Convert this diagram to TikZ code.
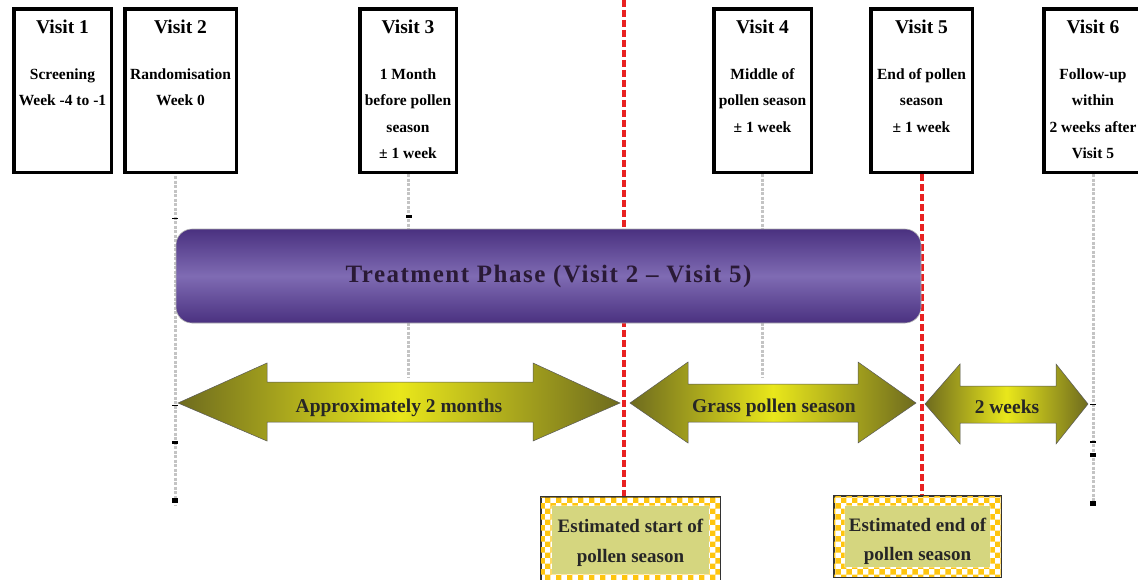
\documentclass[tikz,border=0pt]{standalone}
\usepackage{fontspec}
\setmainfont{Liberation Serif}
\usetikzlibrary{patterns}
\definecolor{purpdark}{HTML}{4A3180}
\definecolor{purpmid}{HTML}{7F6BB3}
\definecolor{olivedark}{HTML}{6E6B1E}
\definecolor{olivebright}{HTML}{E9E71B}
\definecolor{khakifill}{HTML}{D5D67F}
\definecolor{checkgold}{HTML}{FFC50F}
\definecolor{seasonred}{HTML}{E82222}
\definecolor{timegray}{HTML}{C4C4C4}
\definecolor{treattext}{HTML}{2A1A36}

\begin{document}
\begin{tikzpicture}[x=1pt,y=-1pt,
  visitbox/.style={draw=black, line width=3.5pt, fill=white, minimum height=163.5pt, inner sep=0pt},
  vtitle/.style={font=\bfseries\fontsize{19.5}{21}\selectfont, anchor=base, inner sep=0pt},
  vsub/.style={font=\bfseries\fontsize{15.5}{18}\selectfont, anchor=base, inner sep=0pt},
  timeline/.style={draw=timegray, line width=3pt, dash pattern=on 3pt off 1.5pt},
  tickmark/.style={draw=black, line width=3pt},
  seasonline/.style={draw=seasonred, line width=4pt, dash pattern=on 7pt off 3pt},
  treatbar/.style={draw=gray!60, line width=0.6pt, rounded corners=16pt,
    top color=purpdark, bottom color=purpdark, middle color=purpmid,
    minimum width=745pt, minimum height=94pt, inner sep=0pt,
    text=treattext, font=\bfseries\fontsize{25}{27}\selectfont\addfontfeature{LetterSpace=6}},
  spanarrow/.style={draw=gray!70!black, line width=0.5pt,
    left color=olivedark, right color=olivedark, middle color=olivebright},
  spanlabel/.style={font=\bfseries\fontsize{19.5}{21}\selectfont, text=black!85, anchor=base, inner sep=0pt},
  estbox/.style={draw=black!80, line width=0.8pt, fill=white, inner sep=0pt},
  estlabel/.style={font=\bfseries\fontsize{19}{21}\selectfont, text=black!85, anchor=base, inner sep=0pt},
]
\clip (0,0) rectangle (1138,579);
\fill[white] (0,0) rectangle (1138,579);

% visit boxes
\node[visitbox, minimum width=97.5pt]  (v1) at (62.5,90.5) {};
\node[visitbox, minimum width=111.5pt] (v2) at (180.5,90.5) {};
\node[visitbox, minimum width=96.5pt]  (v3) at (408,90.5) {};
\node[visitbox, minimum width=97.5pt]  (v4) at (762.5,90.5) {};
\node[visitbox, minimum width=101.5pt] (v5) at (921.5,90.5) {};
\node[visitbox, minimum width=98.5pt]  (v6) at (1093,90.5) {};

% estimated season limits
\node[estbox, minimum width=179pt, minimum height=86pt] (e1) at (630.5,540) {};
\node[estbox, minimum width=167pt, minimum height=81pt] (e2) at (917.5,536.5) {};

% time lines below the visits
\coordinate (t2) at (175,176);
\coordinate (t2end) at (175,505);
\draw[timeline] (t2) -- (t2end);
\draw[timeline] (v3.south) -- ++(0,204);
\draw[timeline] (v4.south) -- ++(0,204);
\draw[timeline] (v6.south) -- ++(0,330);
\draw[tickmark] (406,216) -- (412,216);
\draw[tickmark, line width=1pt] (172,218) -- (178,218);
\draw[tickmark, line width=1pt] (172,405) -- (178,405);
\draw[tickmark] (172,442) -- (178,442);
\draw[tickmark, line width=5pt] (172,500) -- (178,500);
\draw[tickmark, line width=1pt] (1090,404) -- (1096,404);
\draw[tickmark, line width=1.5pt] (1090,442) -- (1096,442);
\draw[tickmark, line width=4pt] (1090,455) -- (1096,455);
\draw[tickmark, line width=5pt] (1090,503) -- (1096,503);

% pollen season limits
\coordinate (r1) at (624,0);
\draw[seasonline] (r1) -- (r1 |- e1.north);
\draw[seasonline] (v5.south) -- (v5.south |- e2.north);

% redraw the boxes over the line ends
\node[visitbox, minimum width=101.5pt] at (v5) {};
\node[visitbox, minimum width=111.5pt] at (v2) {};

% visit texts
\path (v1.north) ++(0,26) node[vtitle] {Visit 1};
\path (v2.north) ++(0,26) node[vtitle] {Visit 2};
\path (v3.north) ++(0,26) node[vtitle] {Visit 3};
\path (v4.north) ++(0,26) node[vtitle] {Visit 4};
\path (v5.north) ++(0,26) node[vtitle] {Visit 5};
\path (v6.north) ++(0,26) node[vtitle] {Visit 6};
\foreach \t [count=\i] in {Screening,Week -4 to -1}
  \path (v1.north) ++(0,45.5+26.5*\i) node[vsub] {\t};
\foreach \t [count=\i] in {Randomisation,Week 0}
  \path (v2.north) ++(0,45.5+26.5*\i) node[vsub] {\t};
\foreach \t [count=\i] in {1 Month,before pollen,season,± 1 week}
  \path (v3.north) ++(0,45.5+26.5*\i) node[vsub] {\t};
\foreach \t [count=\i] in {Middle of,pollen season,± 1 week}
  \path (v4.north) ++(0,45.5+26.5*\i) node[vsub] {\t};
\foreach \t [count=\i] in {End of pollen,season,± 1 week}
  \path (v5.north) ++(0,45.5+26.5*\i) node[vsub] {\t};
\foreach \t [count=\i] in {Follow-up,within,2 weeks after,Visit 5}
  \path (v6.north) ++(0,45.5+26.5*\i) node[vsub] {\t};

% treatment phase bar
\node[treatbar] (tp) at (548.5,276) {Treatment Phase (Visit 2 – Visit 5)};

% duration arrows
\path[spanarrow] (178,403) -- (267,363) -- (267,382) -- (533,382) -- (533,363)
  -- (620,403) -- (533,441) -- (533,422) -- (267,422) -- (267,441) -- cycle;
\node[spanlabel] (a1) at (399,412) {Approximately 2 months};
\path[spanarrow] (630,403) -- (688,362) -- (688,384) -- (858,384) -- (858,362)
  -- (916,403) -- (858,443) -- (858,422) -- (688,422) -- (688,443) -- cycle;
\node[spanlabel] (a2) at (774,412) {Grass pollen season};
\path[spanarrow] (925,404) -- (960,364) -- (960,386) -- (1056,386) -- (1056,364)
  -- (1088,404) -- (1056,444) -- (1056,423) -- (960,423) -- (960,444) -- cycle;
\node[spanlabel] (a3) at (1007,413) {2 weeks};

% checkered frames of the estimate boxes
\foreach \b/\w/\h in {e1/11/9, e2/11/10}{
  \fill[pattern=checkerboard, pattern color=checkgold, even odd rule]
    (\b.north west) rectangle (\b.south east)
    ([shift={(\w,\h)}]\b.north west) rectangle ([shift={(-\w,-\h)}]\b.south east);
  \fill[khakifill] ([shift={(\w,\h)}]\b.north west) rectangle ([shift={(-\w,-\h)}]\b.south east);
  \draw[black!80, line width=0.8pt] (\b.north west) rectangle (\b.south east);
}
\node[estlabel] (e1a) at (630.5,532) {Estimated start of};
\node[estlabel] (e1b) at (630.5,562) {pollen season};
\node[estlabel] (e2a) at (917.5,531) {Estimated end of};
\node[estlabel] (e2b) at (917.5,560) {pollen season};
\end{tikzpicture}
\end{document}
